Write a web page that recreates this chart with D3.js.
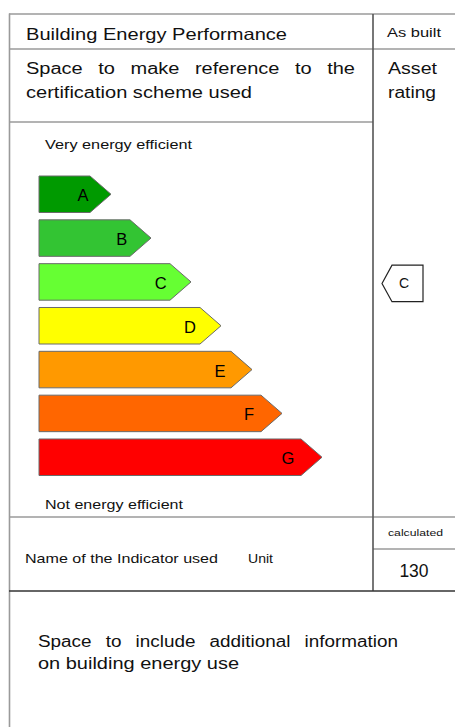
<!DOCTYPE html>
<html>
<head>
<meta charset="utf-8">
<script src="https://cdn.jsdelivr.net/npm/d3@7"></script>
<style>
  html, body { margin: 0; padding: 0; background: #fff; }
  svg { display: block; font-family: "Liberation Sans", Arial, sans-serif; }
</style>
</head>
<body>
<svg id="chart" width="455" height="727"></svg>
<script>
// ---- data ----
const categories = ["A", "B", "C", "D", "E", "F", "G"];
const barLengths = [72, 112, 152, 182, 213, 243, 283];   // arrow length (to tip)
const colors = ["#009a00", "#33c433", "#66ff33", "#ffff00", "#ff9900", "#ff6600", "#ff0000"];
const ratedClass = "C";
const calculatedValue = 130;

const svg = d3.select("#chart");

const x = d3.scaleLinear().domain([0, 283]).range([39, 322]);
const y = d3.scaleBand().domain(categories).range([176, 475.5]).paddingInner(0.167).paddingOuter(0);
const bw = y.bandwidth();
const tipDepth = 21;
// label offset from the tip grows slightly with the arrow length
const labelOffset = d3.scaleLinear().domain([72, 283]).range([28, 34]);

// ---- frame lines ----
const gray = "#9a9a9a", dark = "#333";
function line(x1, y1, x2, y2, c, w) {
  svg.append("line").attr("x1", x1).attr("y1", y1).attr("x2", x2).attr("y2", y2)
    .attr("stroke", c).attr("stroke-width", w);
}
line(9.5, 13.5, 9.5, 727, gray, 1.6);
line(9, 14, 455, 14, gray, 1.6);
line(9, 49, 455, 49, gray, 1.6);
line(9, 122, 373, 122, gray, 1.6);
line(9, 517, 455, 517, gray, 1.6);
line(373, 549, 455, 549, gray, 1.6);
line(373, 14, 373, 591, "#555", 1.6);
line(9, 591, 455, 591, dark, 1.6);

// ---- text helpers ----
function txt(s, x0, x1, base, size, opts = {}) {
  const t = svg.append("text").attr("x", x0).attr("y", base)
    .attr("font-size", size).attr("fill", opts.fill || "#111").text(s);
  if (x1 != null) t.attr("textLength", x1 - x0).attr("lengthAdjust", "spacingAndGlyphs");
  return t;
}
function justified(s, x0, x1, base, size, stretch) {
  const words = s.split(" ");
  const tmp = words.map(w => svg.append("text").attr("font-size", size).attr("y", base).attr("fill", "#111").text(w));
  const widths = tmp.map(t => t.node().getComputedTextLength() * stretch);
  const total = d3.sum(widths);
  const gap = (x1 - x0 - total) / (words.length - 1);
  let cx = x0;
  tmp.forEach((t, i) => {
    t.attr("x", cx).attr("textLength", widths[i]).attr("lengthAdjust", "spacingAndGlyphs");
    cx += widths[i] + gap;
  });
}

txt("Building Energy Performance", 26, 287, 40, 16.5);
txt("As built", 387, 441, 37, 13);
justified("Space to make reference to the", 26, 355, 74, 16, 1.25);
txt("certification scheme used", 26, 252, 98, 16);
txt("Asset", 388, 437, 74, 16);
txt("rating", 388, 436, 98, 16);
txt("Very energy efficient", 45, 192, 149, 13.5);
txt("Not energy efficient", 45, 183, 509, 13.5);
txt("Name of the Indicator used", 25, 218, 563, 13.5);
txt("Unit", 248, 273, 563, 13.5);
txt("calculated", 388, 443, 536, 8.5);
svg.append("text").attr("x", 414).attr("y", 577).attr("text-anchor", "middle")
  .attr("font-size", 17.5).attr("fill", "#111").text(calculatedValue);
justified("Space to include additional information", 38, 398, 647, 16, 1.18);
txt("on building energy use", 38, 239, 669, 16);

// ---- rating arrows ----
const bars = svg.append("g").selectAll("g").data(categories).join("g");
bars.append("path")
  .attr("d", (d, i) => {
    const x0 = x(0), xt = x(barLengths[i]), y0 = y(d), y1 = y0 + bw;
    return `M${x0},${y0}H${xt - tipDepth}L${xt},${y0 + bw / 2}L${xt - tipDepth},${y1}H${x0}Z`;
  })
  .attr("fill", (d, i) => colors[i])
  .attr("stroke", "#6a6a6a").attr("stroke-width", 1);
bars.append("text")
  .attr("x", (d, i) => x(barLengths[i]) - labelOffset(barLengths[i]))
  .attr("y", d => y(d) + bw / 2 + 7)
  .attr("text-anchor", "middle").attr("font-size", 16.5).attr("fill", "#000")
  .text(d => d);

// ---- rating indicator ----
const iy = y(ratedClass) + 1.5;
svg.append("path")
  .attr("d", `M382,${iy + bw / 2}L392,${iy}H423V${iy + bw}H392Z`)
  .attr("fill", "#fff").attr("stroke", "#222").attr("stroke-width", 1.2);
svg.append("text").attr("x", 404).attr("y", iy + bw / 2 + 5).attr("text-anchor", "middle")
  .attr("font-size", 14).attr("fill", "#111").text(ratedClass);
</script>
</body>
</html>
